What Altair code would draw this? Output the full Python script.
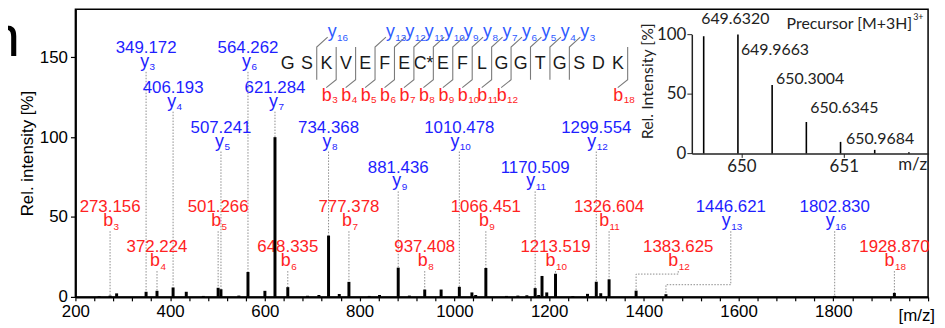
import altair as alt
import pandas as pd

# ---------------- main MS/MS spectrum: peaks ----------------
peak_mz = [250.0, 273.156, 287.0, 349.172, 372.224, 406.193, 434.0, 470.0, 501.266, 507.241,
           545.0, 564.262, 600.0, 621.284, 648.335, 690.0, 714.0, 734.368, 757.0, 777.378,
           820.0, 842.0, 881.436, 905.0, 937.408, 972.0, 1010.478, 1037.0, 1045.0, 1066.451,
           1110.0, 1134.0, 1153.0, 1170.509, 1178.0, 1185.0, 1195.0, 1213.519, 1250.0, 1281.0,
           1299.554, 1309.0, 1326.604, 1383.625, 1446.621, 1802.830, 1928.870]
peak_int = [0.5, 0.8, 2.2, 3.2, 3.8, 5.9, 3.2, 0.6, 5.7, 4.8,
            0.8, 15.6, 3.8, 100.0, 6.1, 0.7, 1.2, 38.4, 1.8, 9.4,
            0.6, 1.2, 18.3, 0.8, 4.6, 4.6, 6.3, 2.8, 1.2, 18.1,
            0.6, 0.8, 1.0, 5.5, 1.2, 13.1, 2.8, 14.5, 0.5, 1.9,
            9.5, 2.3, 11.0, 3.9, 1.7, 0.6, 2.5]

# ---------------- fragment ions ----------------
ion_series = ["y"] * 12 + ["b"] * 11
ion_number = [3, 4, 5, 6, 7, 8, 9, 10, 11, 12, 13, 16,
              3, 4, 5, 6, 7, 8, 9, 10, 11, 12, 18]
ion_mz = [349.172, 406.193, 507.241, 564.262, 621.284, 734.368, 881.436, 1010.478, 1170.509,
          1299.554, 1446.621, 1802.830,
          273.156, 372.224, 501.266, 648.335, 777.378, 937.408, 1066.451, 1213.519, 1326.604,
          1383.625, 1928.870]

# peptide sequence
residues = ["G", "S", "K", "V", "E", "F", "E", "C*", "E", "F", "L", "G", "G", "T", "G", "S", "D", "K"]

# ---------------- precursor inset ----------------
prec_mz = [649.6320, 649.9663, 650.3004, 650.6345, 650.9684, 651.302, 651.636]
prec_int = [98.5, 100.0, 57.5, 26.4, 9.7, 3.0, 1.0]
prec_text = ["649.6320", "649.9663", "650.3004", "650.6345", "650.9684"]

# ---------------- layout (positions / styles) ----------------
W, H = 860, 290
XD = [200, 2000]
YD = [0, 180]
SX = W / (XD[1] - XD[0])
SY = H / (YD[1] - YD[0])
FONT = "Liberation Sans"
IFONT = "Lato"
BLUE = "#1e1eff"
HBLUE = "#2f5bff"
RED = "#ff2222"
GRAY = "#8c8c8c"


def mz_at(px):
    return XD[0] + px / SX


def mz_d(dpx):
    return dpx / SX


def val_at(py):
    return YD[0] + (H - py) / SY


ion_row = [0, 1, 2, 0, 1, 2, 3, 2, 3, 2, 4, 4,
           4, 5, 4, 5, 4, 5, 4, 5, 4, 5, 5]
ROW_B = [44 + 40.2 * r for r in range(6)]
label_shift_px = {"y13": 65.4, "b12": 42.5}
elbow_py = {"y13": 277.7, "b12": 267.0}

height = dict(zip(peak_mz, peak_int))

num_rows, let_rows, sub_rows, dot_rows = [], [], [], []
for s, n, mz, r in zip(ion_series, ion_number, ion_mz, ion_row):
    col = BLUE if s == "y" else RED
    key = f"{s}{n}"
    B = ROW_B[r]
    lx = mz + mz_d(label_shift_px.get(key, 0))
    num_rows.append(dict(mz=lx, val=val_at(B), text=f"{mz:.3f}", col=col))
    adj = 3 if n < 10 else 0
    let_rows.append(dict(mz=lx + mz_d(adj), val=val_at(B + 14), text=s, col=col))
    sub_rows.append(dict(mz=lx + mz_d(adj + 0.5), val=val_at(B + 17.5), text=str(n), col=col))
    top = val_at(B + 19)
    h = height[mz]
    if key in elbow_py:
        e = val_at(elbow_py[key])
        pts = [(lx, top), (lx, e), (mz, e), (mz, h)]
    else:
        pts = [(mz, top), (mz, h)]
    for i, (x, y) in enumerate(pts):
        dot_rows.append(dict(key=key, order=i, mz=x, val=y))

# header (sequence with cleavage markers)
SEQ_X0 = mz_at(214)
SEQ_STEP = mz_d(19.6)
seq_rows = [dict(mz=SEQ_X0 + i * SEQ_STEP, val=val_at(55.5), text=t) for i, t in enumerate(residues)]
L = len(residues)
y_set = {n for s, n in zip(ion_series, ion_number) if s == "y"}
b_set = {n for s, n in zip(ion_series, ion_number) if s == "b"}
cl_rows, hl_rows, hs_rows = [], [], []
for k in range(1, L + 1):
    has_y = (L - k) in y_set
    has_b = k in b_set
    if not (has_y or has_b):
        continue
    xc = SEQ_X0 + (k - 1) * SEQ_STEP + SEQ_STEP / 2
    pts = []
    if has_y:
        pts.append((xc + mz_d(11), val_at(28)))
    pts += [(xc, val_at(38)), (xc, val_at(71))]
    if has_b:
        pts.append((xc - mz_d(10), val_at(79)))
    for i, (x, y) in enumerate(pts):
        cl_rows.append(dict(key=f"c{k}", order=i, mz=x, val=y))
    if has_y:
        hl_rows.append(dict(mz=xc + mz_d(20), val=val_at(28), text="y", col=HBLUE))
        hs_rows.append(dict(mz=xc + mz_d(20.5), val=val_at(32), text=str(L - k), col=HBLUE))
    if has_b:
        hl_rows.append(dict(mz=xc - mz_d(4.5), val=val_at(92), text="b", col=RED))
        hs_rows.append(dict(mz=xc - mz_d(4), val=val_at(94.5), text=str(k), col=RED))

peaks_df = pd.DataFrame(dict(mz=peak_mz, lo=[0.0] * len(peak_mz), val=peak_int))

xs = alt.Scale(domain=XD, nice=False, zero=False)
ys = alt.Scale(domain=YD, nice=False, zero=False)
xaxis = alt.Axis(values=list(range(200, 2001, 40)), format="d",
                 labelExpr="datum.value % 200 == 0 && datum.value < 2000 ? datum.label : ''",
                 labelFlush=False, labelOverlap=False, title=None, grid=False,
                 tickSize=4, tickColor="black", tickWidth=1.2, domainColor="black", domainWidth=2,
                 labelFont=FONT, labelFontSize=17, labelColor="black", labelPadding=3)
yaxis = alt.Axis(values=[0, 50, 100, 150], title="Rel. intensity [%]", grid=False,
                 tickSize=5, tickColor="black", tickWidth=1.2, domainColor="black", domainWidth=2,
                 labelFont=FONT, labelFontSize=17, labelColor="black", labelPadding=3,
                 titleFont=FONT, titleFontSize=17, titleFontWeight="normal", titleColor="black",
                 titlePadding=3)


def MX(f="mz"):
    return alt.X(f"{f}:Q", scale=xs, axis=xaxis)


def MY(f="val"):
    return alt.Y(f"{f}:Q", scale=ys, axis=yaxis)


def text_layer(rows, size, align, baseline="alphabetic", color=None):
    enc = dict(x=MX(), y=MY(), text="text:N")
    if color is None:
        enc["color"] = alt.Color("col:N", scale=None)
        mk = alt.Chart(pd.DataFrame(rows)).mark_text(font=FONT, fontSize=size, align=align, baseline=baseline)
    else:
        mk = alt.Chart(pd.DataFrame(rows)).mark_text(font=FONT, fontSize=size, align=align,
                                                   baseline=baseline, color=color)
    return mk.encode(**enc)


dots = alt.Chart(pd.DataFrame(dot_rows)).mark_line(color=GRAY, strokeWidth=1, strokeDash=[1.5, 1.5]).encode(
    x=MX(), y=MY(), detail="key:N", order="order:Q")
peaks = alt.Chart(peaks_df).mark_rule(color="black", strokeWidth=3).encode(x=MX(), y=MY("lo"), y2="val:Q")
nums = text_layer(num_rows, 17, "center")
lets = text_layer(let_rows, 18, "right")
subs = text_layer(sub_rows, 10, "left")
seq = text_layer(seq_rows, 18, "center", baseline="middle", color="#1a1a1a")
clines = alt.Chart(pd.DataFrame(cl_rows)).mark_line(color="#7a7a7a", strokeWidth=1.1).encode(
    x=MX(), y=MY(), detail="key:N", order="order:Q")
hlets = text_layer(hl_rows, 18, "right")
hsubs = text_layer(hs_rows, 10, "left")
mzlab = text_layer([dict(mz=XD[1], val=val_at(309), text="[m/z]")], 17, "right", baseline="middle",
                   color="black").mark_text(font=FONT, fontSize=17, align="right", baseline="middle",
                                            color="black", dx=7)
panel_n = alt.Chart(pd.DataFrame(dict(text=["n"]))).mark_text(
    font=FONT, fontSize=58, align="right", baseline="alphabetic", color="black").encode(
    x=alt.value(-56), y=alt.value(47), text="text:N")

main = alt.layer(dots, nums, lets, subs, seq, clines, hlets, hsubs, mzlab, peaks, panel_n)

# ---------------- inset ----------------
IXD = [649.516, 651.828]
IXR = [621.7, 860.5]
IYD = [0, 100]
IYR = [145.3, 25.3]
ISX = (IXR[1] - IXR[0]) / (IXD[1] - IXD[0])
ISY = (IYR[0] - IYR[1]) / (IYD[1] - IYD[0])


def imz_at(px):
    return IXD[0] + (px - IXR[0]) / ISX


def ival_at(py):
    return IYD[0] + (IYR[0] - py) / ISY


prec_dx_px = [-2.5, 3, 4, 4, 5.5]
prec_py = [10, 41, 70, 100, 131]

ixs = alt.Scale(domain=IXD, range=IXR, nice=False, zero=False)
iys = alt.Scale(domain=IYD, range=IYR, nice=False, zero=False)
ixaxis = alt.Axis(orient="bottom", offset=-(H - IYR[0]), values=[650, 651], format="d", title=None,
                  grid=False, tickSize=4, tickColor="#222", domainColor="#222", domainWidth=1.5,
                  labelFont=IFONT, labelFontSize=17, labelColor="#222", labelPadding=1,
                  labelFlush=False)
iyaxis = alt.Axis(orient="left", offset=-IXR[0], values=[0, 50, 100], title="Rel. Intensity [%]",
                  grid=False, tickSize=5, tickColor="#222", domainColor="#222", domainWidth=1.5,
                  labelFont=IFONT, labelFontSize=17, labelColor="#222", labelPadding=1,
                  titleFont=IFONT, titleFontSize=16, titleFontWeight="normal", titleColor="#222",
                  titlePadding=1, titleY=72)


def IX(f="mz"):
    return alt.X(f"{f}:Q", scale=ixs, axis=ixaxis)


def IY(f="val"):
    return alt.Y(f"{f}:Q", scale=iys, axis=iyaxis)


iprec_df = pd.DataFrame(dict(mz=prec_mz, lo=[0.0] * len(prec_mz), val=prec_int))
irules = alt.Chart(iprec_df).mark_rule(color="black", strokeWidth=1.6).encode(x=IX(), y=IY("lo"), y2="val:Q")
ilab_rows = [dict(mz=m + dx / ISX, val=ival_at(py), text=t)
             for m, dx, py, t in zip(prec_mz, prec_dx_px, prec_py, prec_text)]
ilabs = alt.Chart(pd.DataFrame(ilab_rows)).mark_text(
    font=IFONT, fontSize=16, align="left", baseline="middle", color="#222").encode(
    x=IX(), y=IY(), text="text:N")
ititle = alt.Chart(pd.DataFrame([dict(mz=imz_at(844), val=ival_at(15), text="Precursor [M+3H]")])).mark_text(
    font=IFONT, fontSize=16, align="right", baseline="middle", color="#222").encode(
    x=IX(), y=IY(), text="text:N")
isup = alt.Chart(pd.DataFrame([dict(mz=imz_at(845), val=ival_at(8), text="3+")])).mark_text(
    font=IFONT, fontSize=9, align="left", baseline="middle", color="#222").encode(
    x=IX(), y=IY(), text="text:N")
imz = alt.Chart(pd.DataFrame([dict(mz=imz_at(859), val=ival_at(157), text="m/z")])).mark_text(
    font=IFONT, fontSize=17, align="right", baseline="middle", color="#222").encode(
    x=IX(), y=IY(), text="text:N")

inset = alt.layer(irules, ilabs, ititle, isup, imz)

chart = alt.layer(main, inset).resolve_scale(x="independent", y="independent").properties(
    width=W, height=H,
    autosize=alt.AutoSizeParams(type="none"),
    padding={"left": 68, "top": 0, "right": 9, "bottom": 30},
).configure_view(stroke="black", strokeWidth=1.5)

chart.save("out.html", embed_options={"renderer": "svg", "actions": False})
